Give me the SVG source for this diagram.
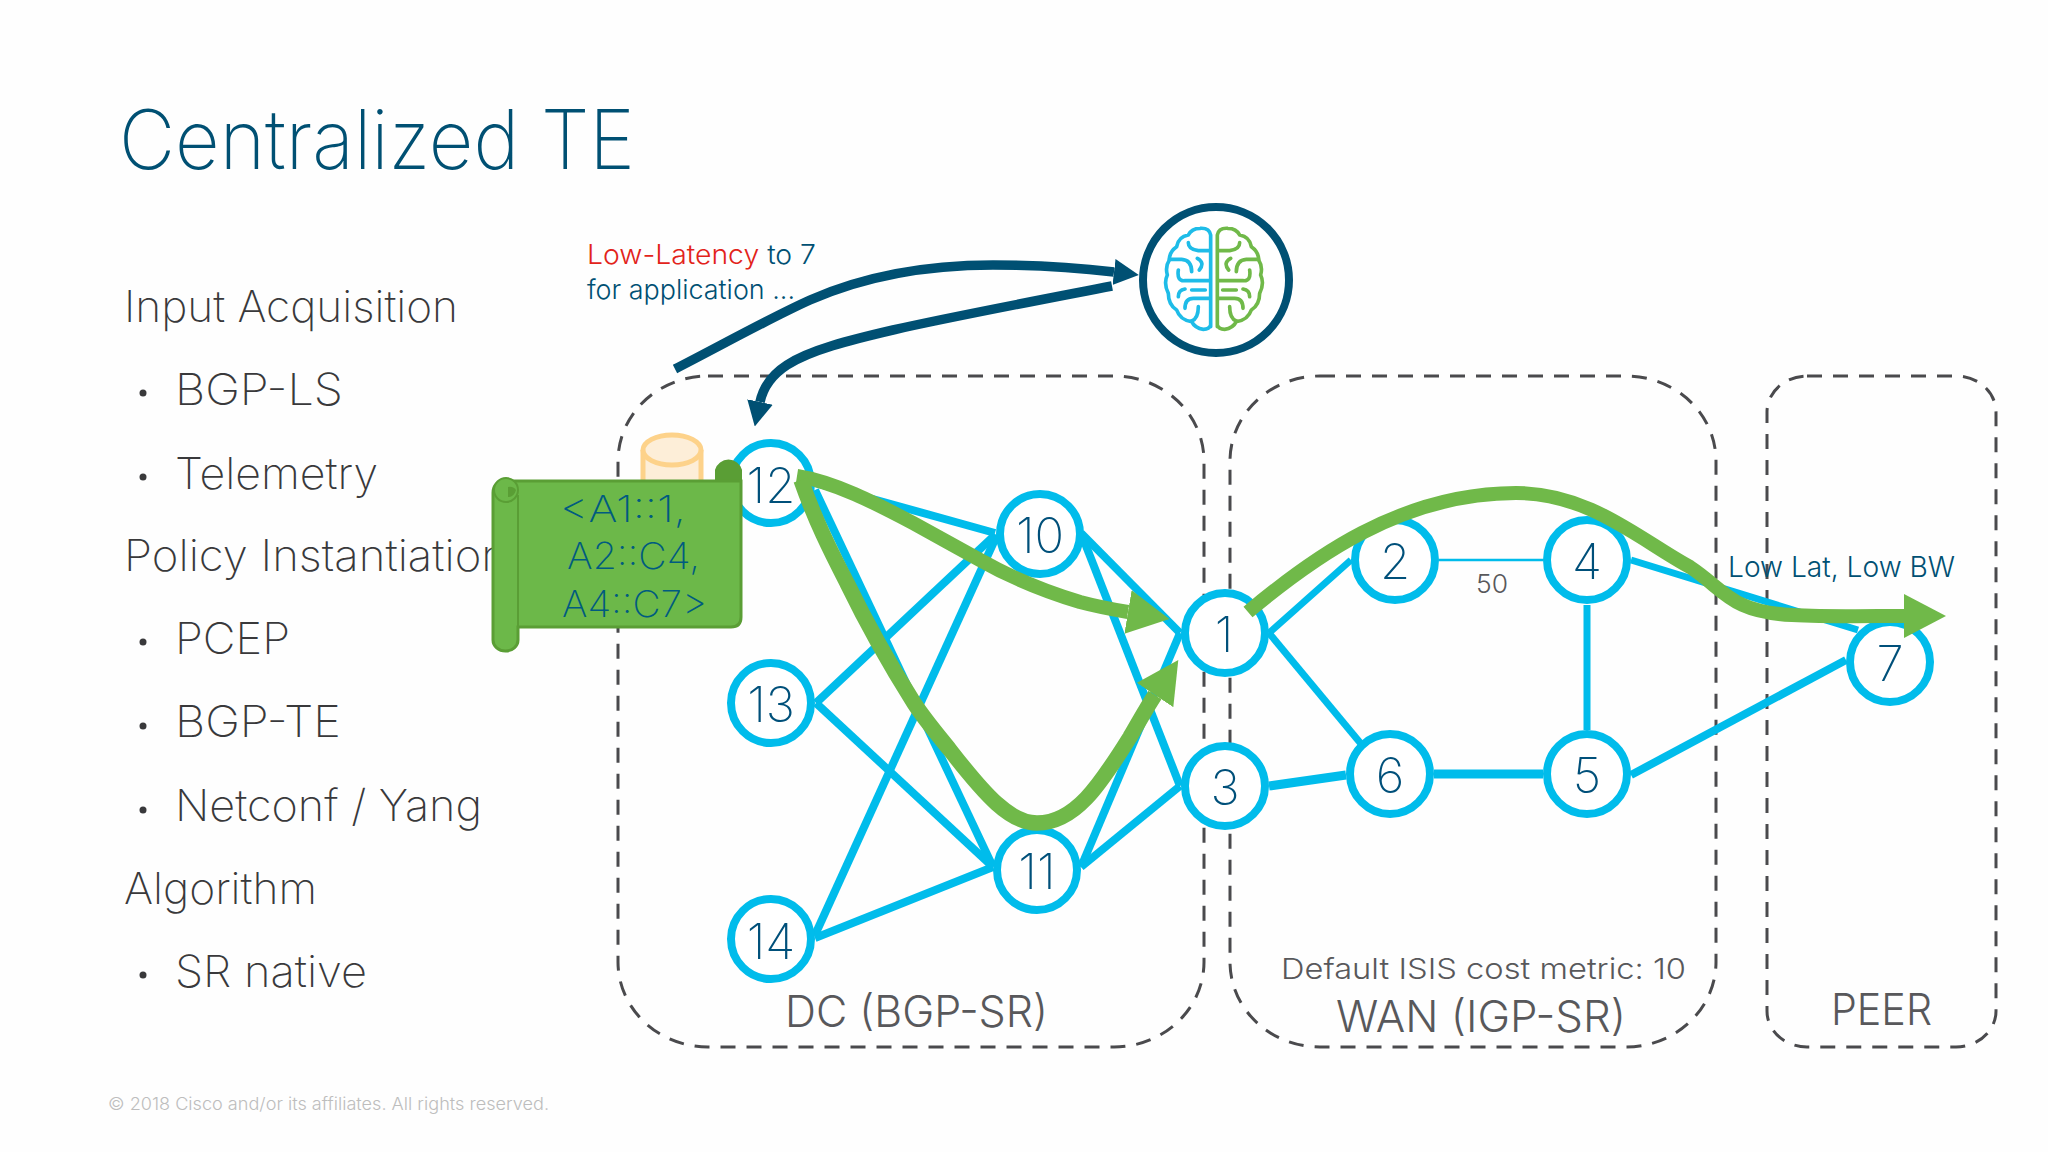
<svg xmlns="http://www.w3.org/2000/svg" xmlns:xlink="http://www.w3.org/1999/xlink" width="2048" height="1152" viewBox="0 0 2048 1152">
<style>
text{font-family:Inter,Lato,sans-serif;font-weight:300}
.title{font-size:82px;fill:#005073;font-weight:200}
.body{font-size:44px;fill:#39393b;font-weight:200}
.zone{fill:none;stroke:#4a4a4d;stroke-width:3;stroke-dasharray:15 11}
.zl{font-size:43px;fill:#58585b}
.num{font-size:49px;fill:#00507a;text-anchor:middle;font-weight:200}
.nd{fill:#fff;stroke:#00bceb;stroke-width:8}
.e{stroke:#00bceb;stroke-width:8;fill:none}
.t{stroke-width:7}
.g{fill:none;stroke:#70b949;stroke-width:14}
.b{fill:none;stroke:#005073;stroke-width:9.500}
.small{font-size:28px;fill:#005073}
.bn{fill:none;stroke-width:11;stroke-linecap:round;stroke-linejoin:round}
.scr{font-size:37px;fill:#005b80;font-weight:200}
</style>
<defs>
<marker id="gh" markerUnits="userSpaceOnUse" markerWidth="42" markerHeight="44" refX="0" refY="22" orient="auto"><polygon points="0,0 42,22 0,44" fill="#70b949"/></marker>
<marker id="bh" markerUnits="userSpaceOnUse" markerWidth="25" markerHeight="26" refX="0" refY="13" orient="auto"><polygon points="0,0 25,13 0,26" fill="#005073"/></marker>
<g id="hemi">
<path d="M272,410V135Q268,113 240,115Q215,115 205,135Q175,140 170,170Q148,185 148,210Q135,230 142,255Q130,280 145,310Q145,345 170,360Q180,390 215,395Q225,415 250,418Q268,418 272,405"/>
<path d="M205,158Q205,178 235,182H268M148,208H185Q215,210 215,245M232,205Q256,218 238,240M175,240Q170,275 195,272H268M175,320Q175,300 195,297M215,300H256M268,325H220Q195,325 195,355M235,350Q235,385 215,393"/>
</g>
</defs>
<rect width="2048" height="1152" fill="#fefefe"/>
<text class="title" x="119" y="169" textLength="516" lengthAdjust="spacingAndGlyphs">Centralized TE</text>
<g id="agenda">
<text class="body" x="124" y="322" textLength="334" lengthAdjust="spacingAndGlyphs">Input Acquisition</text>
<text class="body" x="175" y="405" textLength="168" lengthAdjust="spacingAndGlyphs">BGP-LS</text>
<text class="body" x="175" y="489" textLength="203" lengthAdjust="spacingAndGlyphs">Telemetry</text>
<text class="body" x="124" y="571" textLength="384" lengthAdjust="spacingAndGlyphs">Policy Instantiation</text>
<text class="body" x="175" y="654" textLength="115" lengthAdjust="spacingAndGlyphs">PCEP</text>
<text class="body" x="175" y="737" textLength="166" lengthAdjust="spacingAndGlyphs">BGP-TE</text>
<text class="body" x="175" y="821" textLength="307" lengthAdjust="spacingAndGlyphs">Netconf / Yang</text>
<text class="body" x="124" y="904" textLength="193" lengthAdjust="spacingAndGlyphs">Algorithm</text>
<text class="body" x="175" y="987" textLength="192" lengthAdjust="spacingAndGlyphs">SR native</text>
<g fill="#39393b"><circle cx="143" cy="393" r="3.5"/><circle cx="143" cy="477" r="3.5"/><circle cx="143" cy="642" r="3.5"/><circle cx="143" cy="726" r="3.5"/><circle cx="143" cy="810" r="3.5"/><circle cx="143" cy="975" r="3.5"/></g>
</g>
<text x="108" y="1110" font-size="17" fill="#bdbdbd" textLength="441" lengthAdjust="spacingAndGlyphs">© 2018  Cisco and/or its affiliates. All rights reserved.</text>
<g id="zones">
<rect class="zone" x="618" y="376" width="586" height="671" rx="90" ry="85"/>
<rect class="zone" x="1230" y="376" width="486" height="671" rx="90" ry="85"/>
<rect class="zone" x="1767" y="376" width="229" height="671" rx="40" ry="36"/>
<text class="zl" x="785" y="1027" textLength="263" lengthAdjust="spacingAndGlyphs">DC (BGP-SR)</text>
<text class="zl" x="1336" y="1032" textLength="290" lengthAdjust="spacingAndGlyphs">WAN (IGP-SR)</text>
<text class="zl" x="1831" y="1025" textLength="101" lengthAdjust="spacingAndGlyphs">PEER</text>
<text x="1281" y="979" font-size="29" fill="#58585b" textLength="405" lengthAdjust="spacingAndGlyphs">Default ISIS cost metric: 10</text>
</g>
<g id="connectors">
<line class="e" x1="815" y1="483" x2="995" y2="533"/>
<line class="e" x1="815" y1="490" x2="993" y2="867"/>
<line class="e" x1="816" y1="703" x2="995" y2="535"/>
<line class="e" x1="816" y1="703" x2="993" y2="867"/>
<line class="e" x1="815" y1="935" x2="997" y2="535"/>
<line class="e" x1="815" y1="938" x2="993" y2="867"/>
<line class="e" x1="1081" y1="533" x2="1180" y2="633"/>
<line class="e" x1="1081" y1="533" x2="1180" y2="786"/>
<line class="e" x1="1081" y1="867" x2="1180" y2="633"/>
<line class="e" x1="1081" y1="867" x2="1180" y2="786"/>
<line class="e t" x1="1269" y1="633" x2="1351" y2="560"/>
<line class="e t" x1="1269" y1="633" x2="1362" y2="745"/>
<line class="e" x1="1269" y1="786" x2="1346" y2="775" style="stroke-width:9"/>
<line class="e" x1="1434" y1="774" x2="1543" y2="774" style="stroke-width:9"/>
<line class="e" x1="1439" y1="560" x2="1543" y2="560" style="stroke-width:2.5"/>
<line class="e t" x1="1587" y1="605" x2="1587" y2="730"/>
<line class="e t" x1="1631" y1="560" x2="1858" y2="630"/>
<line class="e" x1="1631" y1="775" x2="1846" y2="660"/>
</g>
<g id="node-12"><circle class="nd" cx="771" cy="483" r="40"/><text class="num" x="771" y="503">12</text></g>
<g id="node-10"><circle class="nd" cx="1040" cy="534" r="40"/><text class="num" x="1040" y="553">10</text></g>
<g id="node-13"><circle class="nd" cx="771" cy="703" r="40"/><text class="num" x="771" y="722">13</text></g>
<g id="node-11"><circle class="nd" cx="1037" cy="870" r="40"/><text class="num" x="1037" y="889">11</text></g>
<g id="node-14"><circle class="nd" cx="771" cy="939" r="40"/><text class="num" x="771" y="959">14</text></g>
<g id="node-1"><circle class="nd" cx="1225" cy="633" r="40"/><text class="num" x="1224" y="652">1</text></g>
<g id="node-3"><circle class="nd" cx="1225" cy="786" r="40"/><text class="num" x="1225" y="805">3</text></g>
<g id="node-2"><circle class="nd" cx="1395" cy="560" r="40"/><text class="num" x="1395" y="579">2</text></g>
<g id="node-4"><circle class="nd" cx="1587" cy="560" r="40"/><text class="num" x="1587" y="579">4</text></g>
<g id="node-6"><circle class="nd" cx="1390" cy="774" r="40"/><text class="num" x="1390" y="793">6</text></g>
<g id="node-5"><circle class="nd" cx="1587" cy="774" r="40"/><text class="num" x="1587" y="793">5</text></g>
<g id="node-7"><circle class="nd" cx="1890" cy="662" r="40"/><text class="num" x="1890" y="681">7</text></g>
<text x="1476" y="593" font-size="26" fill="#58585b" textLength="32" lengthAdjust="spacingAndGlyphs">50</text>
<g id="paths">
<path class="g" d="M797,476C835,482 875,503 913,523C935,535 958,548 980,560C1010,577 1040,590 1080,602C1095,606 1110,609 1128,612" marker-end="url(#gh)"/>
<path class="g" style="stroke-width:15.500" d="M801,480C815,520 830,550 847,583C865,620 890,665 914,703C925,720 938,735 950,750C985,795 1010,823 1037,823C1075,823 1100,785 1130,737C1140,720 1147,707 1155,695" marker-end="url(#gh)"/>
<path class="g" d="M1248,612C1310,560 1400,493 1516,493C1590,493 1640,540 1690,567C1725,590 1730,612 1792,615C1830,617 1870,616 1904,616" marker-end="url(#gh)"/>
</g>
<text class="small" x="1728" y="577" textLength="227" lengthAdjust="spacingAndGlyphs">Low Lat, Low BW</text>
<g id="controller">
<circle cx="1216" cy="280" r="73" fill="#fff" stroke="#005073" stroke-width="8"/>
<g transform="translate(1120,190) scale(.3333)">
<use xlink:href="#hemi" href="#hemi" class="bn" stroke="#1ebce8"/>
<use xlink:href="#hemi" href="#hemi" class="bn" stroke="#70b949" transform="translate(564,0) scale(-1,1)"/>
</g>
</g>
<g id="feedback">
<path class="b" d="M675,369C720,346 770,318 810,300C860,278 920,265 993,265C1040,265 1080,268 1114,272" marker-end="url(#bh)"/>
<path class="b" d="M1112,286C1040,300 950,317 893,330C850,340 810,350 787,365C770,376 763,388 760,402" marker-end="url(#bh)"/>
</g>
<text x="587" y="264" font-size="27" textLength="229" lengthAdjust="spacingAndGlyphs"><tspan fill="#e2231a">Low-Latency</tspan><tspan fill="#005073"> to 7</tspan></text>
<text x="587" y="299" font-size="27" fill="#005073" textLength="208" lengthAdjust="spacingAndGlyphs">for application ...</text>
<g id="database">
<path d="M643,450V485H701V450" fill="#fdeed8" stroke="#fdd28a" stroke-width="5"/>
<ellipse cx="672" cy="450" rx="29" ry="15" fill="#fdeed8" stroke="#fdd28a" stroke-width="5"/>
</g>
<g id="scroll">
<path d="M716,483V470A13,13 0 0 1 741,470V483Z" fill="#5a9e35" stroke="#5a9e35" stroke-width="2"/>
<path d="M507,481H741V617Q741,627 731,627H518V640A12.500,11 0 0 1 493,640V493Q493,481 507,481Z" fill="#6cb849" stroke="#5a9e35" stroke-width="3"/>
<line x1="518" y1="495" x2="518" y2="627" stroke="#5a9e35" stroke-width="2"/>
<path d="M494,490A12,12 0 0 0 518,490A12,12 0 0 0 494,490Z" fill="#6cb849" stroke="#5a9e35" stroke-width="2"/>
<path d="M508,497A8,12 0 0 0 516,490A8,8 0 0 0 508,487Z" fill="#5a9e35"/>
<text class="scr" x="560" y="522" textLength="126" lengthAdjust="spacingAndGlyphs">&lt;A1::1,</text>
<text class="scr" x="567" y="569" textLength="133" lengthAdjust="spacingAndGlyphs">A2::C4,</text>
<text class="scr" x="562" y="617" textLength="145" lengthAdjust="spacingAndGlyphs">A4::C7&gt;</text>
</g>
</svg>
